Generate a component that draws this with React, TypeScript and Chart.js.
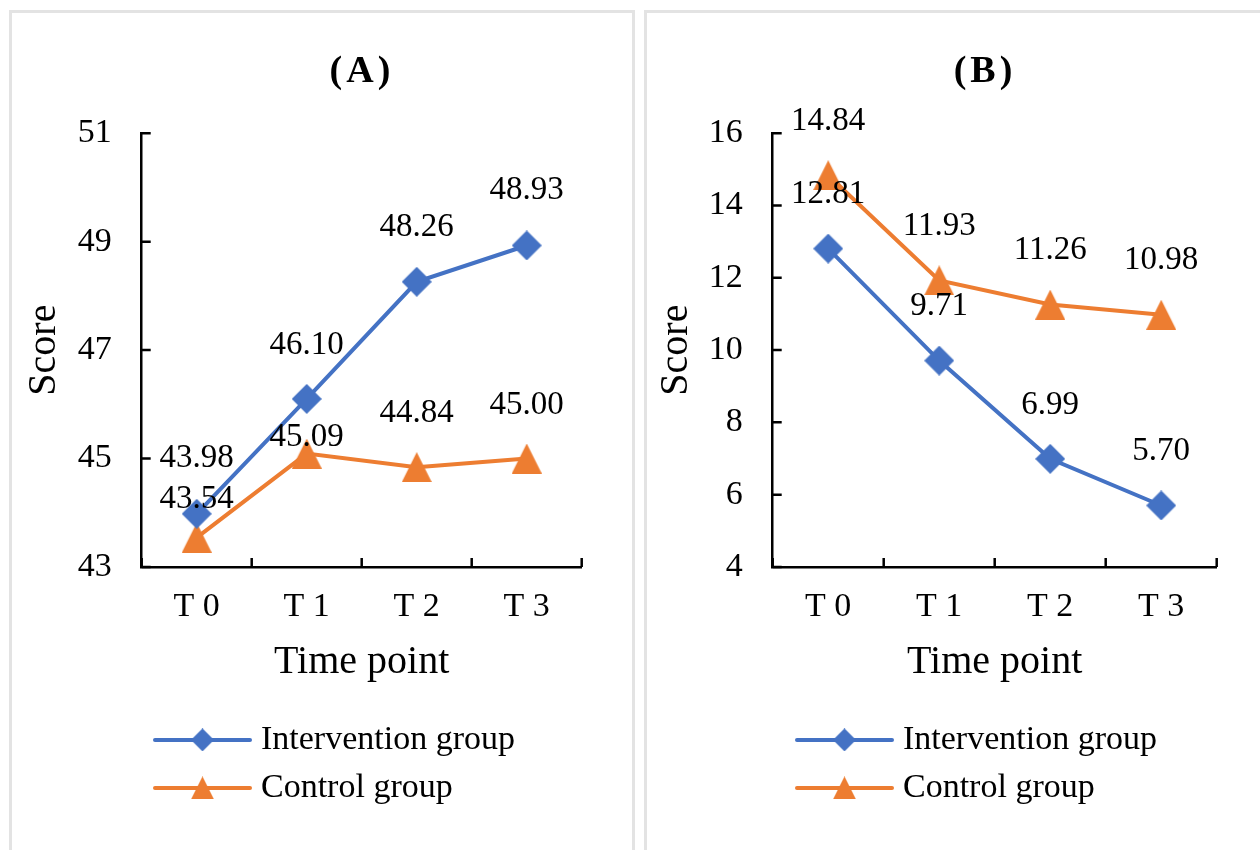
import React, { useEffect, useRef } from 'react';
import { Chart, registerables } from 'chart.js';

Chart.register(...registerables);

// ---------- data ----------
const timePoints = ['T 0', 'T 1', 'T 2', 'T 3'];
const seriesNames = ['Intervention group', 'Control group'];

const interventionA = [43.98, 46.1, 48.26, 48.93];
const controlA = [43.54, 45.09, 44.84, 45.0];
const yRangeA = [43, 51];

const interventionB = [12.81, 9.71, 6.99, 5.7];
const controlB = [14.84, 11.93, 11.26, 10.98];
const yRangeB = [4, 16];

const yStep = 2;
const panelTitles = ['(A)', '(B)'];
const axisTitleX = 'Time point';
const axisTitleY = 'Score';

// ---------- style ----------
const FONT = "'Liberation Serif', 'Times New Roman', serif";
const BLUE = '#4472C4';
const ORANGE = '#ED7D31';

function makeMarker(kind: 'diamond' | 'triangle', size: number, color: string) {
  const c = document.createElement('canvas');
  c.width = size;
  c.height = size;
  const ctx = c.getContext('2d')!;
  ctx.fillStyle = color;
  ctx.beginPath();
  if (kind === 'diamond') {
    ctx.moveTo(size / 2, 0);
    ctx.lineTo(size, size / 2);
    ctx.lineTo(size / 2, size);
    ctx.lineTo(0, size / 2);
  } else {
    ctx.moveTo(size / 2, 0);
    ctx.lineTo(size, size);
    ctx.lineTo(0, size);
  }
  ctx.closePath();
  ctx.fill();
  return c;
}

const decorPlugin = {
  id: 'decor',
  afterDraw(chart: any, _args: any, opts: any) {
    const { ctx, chartArea, scales } = chart;
    const xs = scales.x;
    const ys = scales.y;
    ctx.save();

    // inside tick marks
    ctx.strokeStyle = '#000';
    ctx.lineWidth = 2.5;
    ctx.beginPath();
    ys.ticks.forEach((_t: any, i: number) => {
      const py = ys.getPixelForTick(i);
      ctx.moveTo(chartArea.left, py);
      ctx.lineTo(chartArea.left + 9, py);
    });
    const n = chart.data.labels.length;
    for (let i = 0; i <= n; i++) {
      const px = xs.getPixelForValue(i - 0.5);
      ctx.moveTo(px, chartArea.bottom);
      ctx.lineTo(px, chartArea.bottom - 9);
    }
    ctx.stroke();

    // data labels
    ctx.fillStyle = '#000';
    ctx.font = `33px ${FONT}`;
    ctx.textAlign = 'center';
    ctx.textBaseline = 'middle';
    chart.data.datasets.forEach((ds: any, di: number) => {
      const meta = chart.getDatasetMeta(di);
      meta.data.forEach((pt: any, i: number) => {
        const lift = (opts.labelLift && opts.labelLift[di] && opts.labelLift[di][i]) ?? 54;
        ctx.fillText(Number(ds.data[i]).toFixed(2), pt.x, pt.y - lift);
      });
    });

    // panel title
    ctx.font = `bold 38px ${FONT}`;
    (ctx as any).letterSpacing = '4px';
    ctx.fillText(opts.title, chartArea.left + opts.titleDx, chartArea.top - 61);
    (ctx as any).letterSpacing = '0px';

    // legend
    const lx = chartArea.left + opts.legendDx;
    chart.data.datasets.forEach((ds: any, di: number) => {
      const ly = chartArea.bottom + 173 + di * 48;
      ctx.strokeStyle = ds.borderColor;
      ctx.lineWidth = 4;
      ctx.lineCap = 'round';
      ctx.beginPath();
      ctx.moveTo(lx, ly);
      ctx.lineTo(lx + 95, ly);
      ctx.stroke();
      const m = opts.legendMarkers[di];
      ctx.drawImage(m, lx + 47.5 - m.width / 2, ly - m.height / 2);
      ctx.fillStyle = '#000';
      ctx.font = `34px ${FONT}`;
      ctx.textAlign = 'left';
      ctx.textBaseline = 'middle';
      ctx.fillText(ds.label, lx + 106, ly);
    });

    ctx.restore();
  },
};

type PanelProps = {
  intervention: number[];
  control: number[];
  yRange: number[];
  title: string;
  width: number;
  height: number;
  yWidth: number;
  yTitlePad: number;
  padRight: number;
  titleDx: number;
  legendDx: number;
  labelLift?: number[][];
};

function PanelChart(p: PanelProps) {
  const ref = useRef<HTMLCanvasElement>(null);
  useEffect(() => {
    if (!ref.current) return;
    const diamond = makeMarker('diamond', 30, BLUE);
    const triangle = makeMarker('triangle', 30, ORANGE);
    const legendDiamond = makeMarker('diamond', 23, BLUE);
    const legendTriangle = makeMarker('triangle', 23, ORANGE);
    const chart = new Chart(ref.current, {
      type: 'line',
      data: {
        labels: timePoints,
        datasets: [
          {
            label: seriesNames[0],
            data: p.intervention,
            borderColor: BLUE,
            backgroundColor: BLUE,
            borderWidth: 4,
            pointStyle: diamond as any,
            pointRadius: 15,
            tension: 0,
            clip: false as any,
          },
          {
            label: seriesNames[1],
            data: p.control,
            borderColor: ORANGE,
            backgroundColor: ORANGE,
            borderWidth: 4,
            pointStyle: triangle as any,
            pointRadius: 15,
            tension: 0,
            clip: false as any,
          },
        ],
      },
      options: {
        animation: false,
        responsive: false,
        maintainAspectRatio: false,
        layout: { padding: { left: 0, right: p.padRight, top: 120.3, bottom: 163.3 } },
        plugins: {
          legend: { display: false },
          tooltip: { enabled: false },
          decor: {
            title: p.title,
            titleDx: p.titleDx,
            legendDx: p.legendDx,
            labelLift: p.labelLift,
            legendMarkers: [legendDiamond, legendTriangle],
          },
        } as any,
        scales: {
          x: {
            type: 'category',
            offset: true,
            grid: { display: false, drawTicks: false },
            border: { display: true, color: '#000', width: 2.5 },
            ticks: { padding: 20, color: '#000', font: { family: FONT, size: 34 } },
            title: {
              display: true,
              text: axisTitleX,
              color: '#000',
              font: { family: FONT, size: 40 },
              padding: 0,
            },
            afterFit: (s: any) => {
              s.height = 119.8;
            },
          },
          y: {
            min: p.yRange[0],
            max: p.yRange[1],
            grid: { display: false, drawTicks: false },
            border: { display: true, color: '#000', width: 2.5 },
            ticks: { stepSize: yStep, padding: 30, color: '#000', font: { family: FONT, size: 34 } },
            title: {
              display: true,
              text: axisTitleY,
              color: '#000',
              font: { family: FONT, size: 40 },
              padding: { top: p.yTitlePad, bottom: 0 },
            },
            afterFit: (s: any) => {
              s.width = p.yWidth;
            },
          },
        },
      },
      plugins: [decorPlugin],
    });
    return () => chart.destroy();
  }, []);
  return <canvas ref={ref} width={p.width} height={p.height} style={{ display: 'block' }} />;
}

export default function App() {
  const panelStyle: React.CSSProperties = {
    position: 'absolute',
    top: 10,
    height: 900,
    border: '3px solid #e3e3e3',
    boxSizing: 'border-box',
    background: '#fff',
  };
  return (
    <div
      style={{
        position: 'fixed',
        left: 0,
        top: 0,
        width: 1260,
        height: 850,
        overflow: 'hidden',
        background: '#fff',
      }}
    >
      <div style={{ ...panelStyle, left: 9, width: 626 }}>
        <PanelChart
          intervention={interventionA}
          control={controlA}
          yRange={yRangeA}
          title={panelTitles[0]}
          width={620}
          height={837}
          yWidth={129.7}
          yTitlePad={8.6}
          padRight={50.3}
          titleDx={220.3}
          legendDx={13.3}
          labelLift={[
            [55, 54, 54, 55],
            [38, 16, 54, 53],
          ]}
        />
      </div>
      <div style={{ ...panelStyle, left: 644, width: 700 }}>
        <PanelChart
          intervention={interventionB}
          control={controlB}
          yRange={yRangeB}
          title={panelTitles[1]}
          width={613}
          height={837}
          yWidth={125.7}
          yTitlePad={5.6}
          padRight={43.3}
          titleDx={212.3}
          legendDx={24.3}
        />
      </div>
    </div>
  );
}
